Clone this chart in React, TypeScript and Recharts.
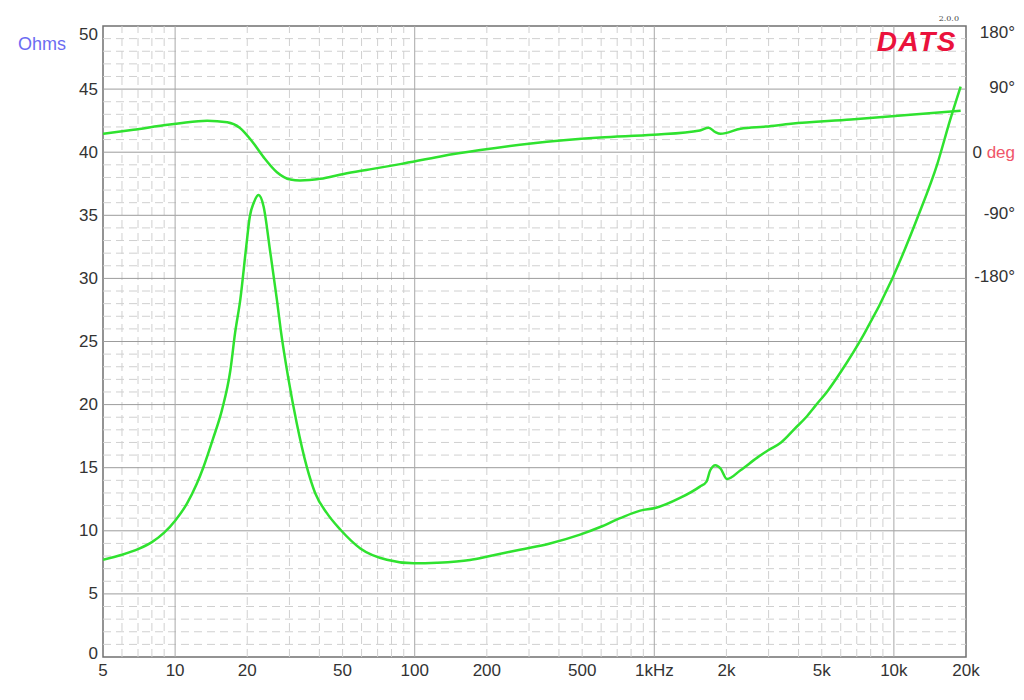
import { ComposedChart, Line, XAxis, YAxis, ReferenceLine, ReferenceArea } from "recharts";

// impedance magnitude
const impHz = [
  5, 6, 7, 8, 9, 10, 11.2, 12.3, 13.1, 14.4, 15.7, 17, 17.8, 18.7, 19.8, 20.5, 21.3, 22.3, 23.4, 24.9,
  26.6, 27.6, 29.8, 32.2, 35.4, 38.4, 43, 48.9, 59.3, 76.5, 99, 124, 170, 206, 275, 367, 490, 595, 720,
  874, 1008, 1280, 1550, 1652, 1712, 1800, 1888, 2013, 2290, 2690, 3000, 3380, 3860, 4300, 4700, 5300,
  6010, 7515, 9800, 12600, 15200, 17200, 19000,
];
const impOhms = [
  7.7, 8.1, 8.55, 9.1, 9.85, 10.8, 12.15, 13.7, 15.0, 17.3, 19.6, 22.7, 25.7, 28.3, 32.5, 34.9, 36.0,
  36.6, 35.7, 32.2, 28.3, 25.9, 21.9, 18.5, 15.1, 13.0, 11.4, 10.1, 8.6, 7.7, 7.42, 7.47, 7.69, 8.0, 8.5,
  9.0, 9.7, 10.3, 11.0, 11.6, 11.8, 12.6, 13.5, 13.9, 14.8, 15.2, 14.95, 14.1, 14.8, 15.8, 16.4, 17.0,
  18.1, 19.0, 19.9, 21.1, 22.6, 25.6, 29.9, 34.9, 39.1, 42.6, 45.2,
];

// phase, degrees
const phaseHz = [
  5, 6.7, 9.5, 10.1, 13.6, 16.5, 18.6, 21, 23.4, 26.6, 30.3, 33.2, 40.4, 50.5, 65, 87, 128, 188, 306, 595,
  993, 1550, 1685, 1800, 1890, 2290, 2920, 3720, 6620, 10700, 19000,
];
const phaseDeg = [
  26.2, 32, 39.5, 40.5, 45, 42.8, 35, 15, -7, -28.5, -39, -40.4, -38, -31, -24.5, -17, -6, 3, 12.5, 21,
  24.8, 31, 34.8, 28.5, 26.2, 33.4, 36.5, 40.5, 46.5, 52.2, 59.2,
];

const freqTicks = [5, 10, 20, 50, 100, 200, 500, 1000, 2000, 5000, 10000, 20000];
const freqLabels = ["5", "10", "20", "50", "100", "200", "500", "1kHz", "2k", "5k", "10k", "20k"];
const ohmTicks = [0, 5, 10, 15, 20, 25, 30, 35, 40, 45, 50];
const degTicks = [180, 90, 0, -90, -180];
const degLabels = ["180°", "90°", "0", "-90°", "-180°"];

const gridMajorHz = [10, 100, 1000, 10000];
const gridMinorHz = [
  6, 7, 8, 9, 20, 30, 40, 50, 60, 70, 80, 90, 200, 300, 400, 500, 600, 700, 800, 900, 2000, 3000, 4000,
  5000, 6000, 7000, 8000, 9000,
];
const gridMajorOhm = [5, 10, 15, 20, 25, 30, 35, 40, 45];
const gridMinorOhm = [
  1, 2, 3, 4, 6, 7, 8, 9, 11, 12, 13, 14, 16, 17, 18, 19, 21, 22, 23, 24, 26, 27, 28, 29, 31, 32, 33, 34,
  36, 37, 38, 39, 41, 42, 43, 44, 46, 47, 48, 49,
];

const impData = impHz.map((f, i) => ({ f, z: impOhms[i] }));
const phaseData = phaseHz.map((f, i) => ({ f, p: phaseDeg[i] }));

const FONT = "'Liberation Sans', Arial, Helvetica, sans-serif";
const TRACE = "#2fe22f";

const OhmTick = ({ x, y, payload }: any) => {
  let dy = 0;
  if (payload.value === 50) dy = 8;
  if (payload.value === 0) dy = -4;
  return (
    <text x={x} y={y + dy} textAnchor="end" dominantBaseline="central" fill="#333" fontSize={17} fontFamily={FONT}>
      {payload.value}
    </text>
  );
};

const DegTick = ({ x, y, payload }: any) => {
  const i = degTicks.indexOf(payload.value);
  const dy = payload.value === 180 ? 6 : payload.value === 0 ? 0 : -2;
  return (
    <text x={x + 49} y={y + dy} textAnchor="end" dominantBaseline="central" fill="#333" fontSize={17} fontFamily={FONT}>
      {degLabels[i]}
      {payload.value === 0 && <tspan fill="#f0566a"> deg</tspan>}
    </text>
  );
};

const FreqTick = ({ x, y, payload }: any) => {
  const i = freqTicks.indexOf(payload.value);
  return (
    <text x={x} y={y} dy="0.9em" textAnchor="middle" fill="#333" fontSize={17} fontFamily={FONT}>
      {freqLabels[i]}
    </text>
  );
};

export default function App() {
  return (
    <div style={{ position: "absolute", left: 0, top: 0, width: 1024, height: 700, background: "#fff" }}>
      <ComposedChart width={1024} height={700} margin={{ top: 26, right: 0, bottom: 13, left: 43 }}>
        <XAxis
          dataKey="f"
          type="number"
          scale="log"
          domain={[5, 20000]}
          ticks={freqTicks}
          allowDataOverflow
          axisLine={false}
          tickLine={false}
          tickSize={0}
          tickMargin={4}
          height={30}
          tick={<FreqTick />}
        />
        <YAxis
          yAxisId="ohm"
          type="number"
          domain={[0, 50]}
          ticks={ohmTicks}
          axisLine={false}
          tickLine={false}
          tickSize={0}
          tickMargin={5}
          width={60}
          tick={<OhmTick />}
        />
        <YAxis
          yAxisId="deg"
          orientation="right"
          type="number"
          domain={[-720, 180]}
          ticks={degTicks}
          axisLine={false}
          tickLine={false}
          tickSize={0}
          tickMargin={0}
          width={58}
          tick={<DegTick />}
        />

        {gridMinorOhm.map((v) => (
          <ReferenceLine key={`ho${v}`} yAxisId="ohm" y={v} stroke="#d0d0d0" strokeDasharray="8 5" />
        ))}
        {gridMinorHz.map((v) => (
          <ReferenceLine key={`vf${v}`} yAxisId="ohm" x={v} stroke="#d0d0d0" strokeDasharray="8 5" />
        ))}
        {gridMajorOhm.map((v) => (
          <ReferenceLine key={`hO${v}`} yAxisId="ohm" y={v} stroke="#9c9c9c" />
        ))}
        {gridMajorHz.map((v) => (
          <ReferenceLine key={`vF${v}`} yAxisId="ohm" x={v} stroke="#a8a8a8" />
        ))}
        <ReferenceArea yAxisId="ohm" x1={5} x2={20000} y1={0} y2={50} fill="none" stroke="#707070" strokeWidth={1.5} />

        <Line
          data={phaseData}
          dataKey="p"
          yAxisId="deg"
          type="monotone"
          stroke={TRACE}
          strokeWidth={2.5}
          dot={false}
          isAnimationActive={false}
        />
        <Line
          data={impData}
          dataKey="z"
          yAxisId="ohm"
          type="monotone"
          stroke={TRACE}
          strokeWidth={2.5}
          dot={false}
          isAnimationActive={false}
        />
      </ComposedChart>

      <div style={{ position: "absolute", left: 18, top: 34, fontFamily: FONT, fontSize: 18, color: "#6b6bf2" }}>Ohms</div>
      <div
        style={{
          position: "absolute",
          right: 1024 - 959,
          top: 14,
          fontFamily: "'DejaVu Serif', serif",
          fontSize: 8,
          color: "#444",
        }}
      >
        2.0.0
      </div>
      <div
        style={{
          position: "absolute",
          right: 1024 - 957,
          top: 26,
          fontFamily: FONT,
          fontSize: 28,
          fontWeight: "bold",
          fontStyle: "italic",
          letterSpacing: 1.5,
          color: "#ea123c",
        }}
      >
        DATS
      </div>
    </div>
  );
}
